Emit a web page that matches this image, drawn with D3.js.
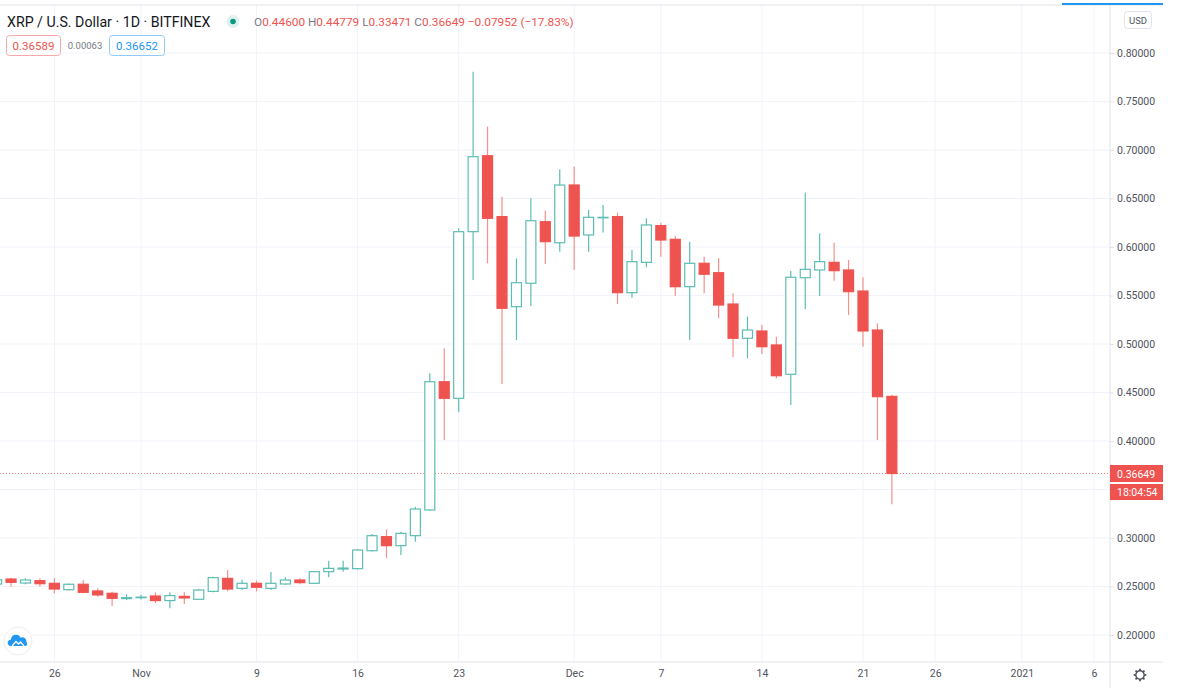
<!DOCTYPE html>
<html>
<head>
<meta charset="utf-8">
<script src="https://cdn.jsdelivr.net/npm/d3@7"></script>
<style>
  html, body { margin: 0; padding: 0; background: #fff; }
  svg { display: block; font-family: Roboto, "Noto Sans", sans-serif; }
</style>
</head>
<body>
<svg id="chart" width="1183" height="688"></svg>
<script>
// daily XRP/USD candles
const dates = [
  "2020-10-22","2020-10-23","2020-10-24","2020-10-25","2020-10-26","2020-10-27","2020-10-28","2020-10-29","2020-10-30","2020-10-31",
  "2020-11-01","2020-11-02","2020-11-03","2020-11-04","2020-11-05","2020-11-06","2020-11-07","2020-11-08","2020-11-09","2020-11-10",
  "2020-11-11","2020-11-12","2020-11-13","2020-11-14","2020-11-15","2020-11-16","2020-11-17","2020-11-18","2020-11-19","2020-11-20",
  "2020-11-21","2020-11-22","2020-11-23","2020-11-24","2020-11-25","2020-11-26","2020-11-27","2020-11-28","2020-11-29","2020-11-30",
  "2020-12-01","2020-12-02","2020-12-03","2020-12-04","2020-12-05","2020-12-06","2020-12-07","2020-12-08","2020-12-09","2020-12-10",
  "2020-12-11","2020-12-12","2020-12-13","2020-12-14","2020-12-15","2020-12-16","2020-12-17","2020-12-18","2020-12-19","2020-12-20",
  "2020-12-21","2020-12-22","2020-12-23"
]
const opens = [
  0.2525,0.2577,0.2536,0.2560,0.2533,0.2467,0.2523,0.2454,0.2430,0.2375,
  0.2385,0.2402,0.2355,0.2398,0.2368,0.2450,0.2584,0.2481,0.2533,0.2481,
  0.2526,0.2567,0.2533,0.2653,0.2680,0.2684,0.2869,0.3014,0.2921,0.3024,
  0.3289,0.4611,0.4440,0.6158,0.6941,0.6313,0.5385,0.5626,0.6261,0.6044,
  0.6639,0.6124,0.6301,0.6313,0.5529,0.5842,0.6220,0.6079,0.5591,0.5832,
  0.5735,0.5412,0.5059,0.5134,0.4990,0.4688,0.5684,0.5763,0.5842,0.5763,
  0.5546,0.5144,0.44600
]
const highs = [
  0.2585,0.2590,0.2584,0.2584,0.2584,0.2530,0.2567,0.2482,0.2446,0.2420,
  0.2415,0.2440,0.2438,0.2440,0.2475,0.2600,0.2670,0.2567,0.2560,0.2650,
  0.2595,0.2584,0.2660,0.2766,0.2766,0.2885,0.3040,0.3090,0.3065,0.3323,
  0.4698,0.4956,0.6193,0.7807,0.7240,0.6519,0.5883,0.6502,0.6374,0.6801,
  0.6828,0.6381,0.6433,0.6354,0.5969,0.6296,0.6251,0.6113,0.6055,0.5900,
  0.5883,0.5523,0.5282,0.5196,0.5076,0.5756,0.6560,0.6141,0.6044,0.5866,
  0.5688,0.5213,0.44779
]
const lows = [
  0.2510,0.2498,0.2522,0.2498,0.2430,0.2460,0.2430,0.2395,0.2299,0.2361,
  0.2365,0.2330,0.2276,0.2320,0.2360,0.2440,0.2450,0.2464,0.2450,0.2464,
  0.2516,0.2522,0.2526,0.2595,0.2653,0.2676,0.2860,0.2792,0.2825,0.2962,
  0.3280,0.4010,0.4296,0.5660,0.5832,0.4588,0.5041,0.5392,0.5825,0.5952,
  0.5763,0.5952,0.6150,0.5412,0.5477,0.5791,0.5900,0.5498,0.5041,0.5522,
  0.5265,0.4863,0.4853,0.4897,0.4646,0.4371,0.5358,0.5495,0.5653,0.5299,
  0.4972,0.4010,0.33471
]
const closes = [
  0.2570,0.2543,0.2567,0.2529,0.2474,0.2523,0.2440,0.2413,0.2378,0.2385,
  0.2390,0.2355,0.2406,0.2382,0.2464,0.2591,0.2474,0.2533,0.2492,0.2533,
  0.2567,0.2540,0.2653,0.2687,0.2690,0.2876,0.3024,0.2921,0.3048,0.3299,
  0.4611,0.4440,0.6158,0.6931,0.6296,0.5368,0.5632,0.6271,0.6055,0.6639,
  0.6113,0.6306,0.6306,0.5529,0.5849,0.6227,0.6072,0.5591,0.5832,0.5719,
  0.5402,0.5059,0.5144,0.4972,0.4673,0.5688,0.5770,0.5849,0.5756,0.5539,
  0.5134,0.4457,0.36649
]
const priceTicks = [0.20, 0.25, 0.30, 0.35, 0.40, 0.45, 0.50, 0.55, 0.60, 0.65, 0.70, 0.75, 0.80]
const labelTicks = [0.20, 0.25, 0.30, 0.40, 0.45, 0.50, 0.55, 0.60, 0.65, 0.70, 0.75, 0.80]
const timeTicks = ["2020-10-26","2020-11-01","2020-11-09","2020-11-16","2020-11-23","2020-12-01","2020-12-07","2020-12-14","2020-12-21","2020-12-26","2021-01-01","2021-01-06"]
const timeLabels = ["26","Nov","9","16","23","Dec","7","14","21","26","2021","6"]
const lastPrice = 0.36649
const countdown = "18:04:54"
const bid = "0.36589", spread = "0.00063", ask = "0.36652"
const change = " −0.07952 (−17.83%)"

const W = 1183, H = 688
const plotR = 1110, plotB = 662, plotT = 5, edge = 1163
const upColor = "#26a69a", upLine = "#5dbdb3", downColor = "#ef5350", downWick = "#f4908e"
const gridColor = "#f0f3fa", borderColor = "#e0e3eb", textColor = "#131722"

const parse = d3.utcParse("%Y-%m-%d")
const candles = dates.map((d, i) => ({date: parse(d), o: opens[i], h: highs[i], l: lows[i], c: closes[i]}))

const xScale = d3.scaleUtc()
    .domain([parse("2020-11-01"), parse("2020-12-21")])
    .range([141, 863])
const yScale = d3.scaleLinear().domain([0.2, 0.8]).range([635, 53])

const svg = d3.select("#chart")

const clip = svg.append("defs").append("clipPath").attr("id", "plot")
clip.append("rect").attr("x", 0).attr("y", plotT).attr("width", plotR).attr("height", plotB - plotT)

// grid
const grid = svg.append("g").attr("clip-path", "url(#plot)")
grid.selectAll(".hg").data(priceTicks).join("line")
    .attr("x1", 0).attr("x2", plotR)
    .attr("y1", d => yScale(d)).attr("y2", d => yScale(d))
    .attr("stroke", gridColor)
grid.selectAll(".vg").data(timeTicks).join("line")
    .attr("x1", d => xScale(parse(d))).attr("x2", d => xScale(parse(d)))
    .attr("y1", plotT).attr("y2", plotB)
    .attr("stroke", gridColor)

// last price dotted line
svg.append("line")
    .attr("x1", 0).attr("x2", plotR)
    .attr("y1", yScale(lastPrice)).attr("y2", yScale(lastPrice))
    .attr("stroke", downColor).attr("stroke-dasharray", "1,2").attr("opacity", 0.7)

// candles
const bodyW = 10
const cg = svg.append("g").attr("clip-path", "url(#plot)")
const c = cg.selectAll("g.candle").data(candles).join("g").attr("class", "candle")
c.append("line")
    .attr("x1", d => xScale(d.date)).attr("x2", d => xScale(d.date))
    .attr("y1", d => yScale(d.h)).attr("y2", d => yScale(d.l))
    .attr("stroke", d => d.c >= d.o ? upLine : downWick)
    .attr("stroke-width", 1.2)
c.append("rect")
    .attr("x", d => xScale(d.date) - bodyW / 2)
    .attr("width", bodyW)
    .attr("y", d => yScale(Math.max(d.o, d.c)))
    .attr("height", d => Math.max(0.5, Math.abs(yScale(d.o) - yScale(d.c))))
    .attr("fill", d => d.c >= d.o ? "#fff" : downColor)
    .attr("stroke", d => d.c >= d.o ? upLine : downColor)
    .attr("stroke-width", 1.2)

// borders
svg.append("line").attr("x1", 0).attr("x2", edge).attr("y1", plotT).attr("y2", plotT).attr("stroke", borderColor)
svg.append("line").attr("x1", 1062).attr("x2", edge).attr("y1", plotT - 1).attr("y2", plotT - 1).attr("stroke", "#2196f3").attr("stroke-width", 2)

// price axis
const yAxis = d3.axisRight(yScale).tickValues(labelTicks).tickFormat(d3.format(".5f")).tickSize(4).tickPadding(3)
const ya = svg.append("g").attr("transform", `translate(${plotR},0)`).call(yAxis)
ya.select(".domain").remove()
ya.selectAll(".tick line").attr("stroke", borderColor)
ya.selectAll(".tick text").attr("fill", "#50535e").style("font-size", "10.5px").style("font-family", "Roboto, sans-serif")
svg.append("line").attr("x1", plotR).attr("x2", plotR).attr("y1", plotT).attr("y2", H).attr("stroke", borderColor)

// time axis
const xAxis = d3.axisBottom(xScale)
    .tickValues(timeTicks.map(parse))
    .tickFormat((d, i) => timeLabels[i])
    .tickSize(0).tickPadding(8)
const xa = svg.append("g").attr("transform", `translate(0,${plotB})`).call(xAxis)
xa.select(".domain").remove()
xa.selectAll(".tick text").attr("fill", "#50535e").style("font-size", "10.5px").style("font-family", "Roboto, sans-serif")
svg.append("line").attr("x1", 0).attr("x2", edge).attr("y1", plotB).attr("y2", plotB).attr("stroke", borderColor)

// last price badge
const ly = yScale(lastPrice)
svg.append("rect").attr("x", plotR).attr("y", ly - 8.5).attr("width", edge - plotR).attr("height", 17).attr("fill", downColor)
svg.append("text").attr("x", plotR + 7).attr("y", ly + 4).text(d3.format(".5f")(lastPrice))
    .attr("fill", "#fff").style("font-size", "10.5px")
svg.append("rect").attr("x", plotR).attr("y", ly + 10.5).attr("width", edge - plotR).attr("height", 16).attr("fill", downColor)
svg.append("text").attr("x", plotR + 7).attr("y", ly + 22.5).text(countdown)
    .attr("fill", "#fff").style("font-size", "10.5px")

// USD tag
svg.append("rect").attr("x", 1124.5).attr("y", 11.5).attr("width", 27).attr("height", 17).attr("rx", 3)
    .attr("fill", "#fff").attr("stroke", borderColor)
svg.append("text").attr("x", 1138).attr("y", 24).attr("text-anchor", "middle").text("USD")
    .attr("fill", "#50535e").style("font-size", "9.5px")

// legend header
svg.append("text").attr("x", 7).attr("y", 27).text("XRP / U.S. Dollar · 1D · BITFINEX")
    .attr("fill", textColor).style("font-size", "14.2px")
svg.append("circle").attr("cx", 233).attr("cy", 21.5).attr("r", 6.5).attr("fill", "#26a69a").attr("opacity", 0.15)
svg.append("circle").attr("cx", 233).attr("cy", 21.5).attr("r", 2.8).attr("fill", "#089981")

const ohlc = svg.append("text").attr("x", 254).attr("y", 26).style("font-size", "11.8px")
const parts = [
  ["O", d3.format(".5f")(opens[opens.length - 1])],
  [" H", d3.format(".5f")(highs[highs.length - 1])],
  [" L", d3.format(".5f")(lows[lows.length - 1])],
  [" C", d3.format(".5f")(closes[closes.length - 1])]
]
parts.forEach(([k, v]) => {
  ohlc.append("tspan").text(k).attr("fill", "#787b86")
  ohlc.append("tspan").text(v).attr("fill", downColor)
})
ohlc.append("tspan").text(change).attr("fill", downColor)

// bid / spread / ask
svg.append("rect").attr("x", 6.5).attr("y", 35.5).attr("width", 54).attr("height", 20).attr("rx", 3)
    .attr("fill", "#fff").attr("stroke", "#f7a9a7")
svg.append("text").attr("x", 33.5).attr("y", 50).attr("text-anchor", "middle").text(bid)
    .attr("fill", downColor).style("font-size", "11.5px")
svg.append("text").attr("x", 85).attr("y", 49).attr("text-anchor", "middle").text(spread)
    .attr("fill", "#787b86").style("font-size", "9.5px")
svg.append("rect").attr("x", 109.5).attr("y", 35.5).attr("width", 55).attr("height", 20).attr("rx", 3)
    .attr("fill", "#fff").attr("stroke", "#90caf9")
svg.append("text").attr("x", 137).attr("y", 50).attr("text-anchor", "middle").text(ask)
    .attr("fill", "#2196f3").style("font-size", "11.5px")

// logo bubble bottom-left
svg.append("circle").attr("cx", 18).attr("cy", 641).attr("r", 14).attr("fill", "#fff").attr("stroke", "#eceef2")
svg.append("path")
    .attr("d", "M9.5,646 a3.5,3.5 0 0 1 1.5,-6.6 a5,5 0 0 1 9.6,-1.6 a4,4 0 0 1 5.8,4.2 a2.5,2.5 0 0 1 -0.6,4 Z")
    .attr("fill", "#2196f3")
svg.append("path").attr("d", "M12,646 l4,-4.5 l2.5,2.5 l2,-2 l3.5,4").attr("fill", "none").attr("stroke", "#fff").attr("stroke-width", 1.3)

// settings gear bottom-right
const gear = svg.append("g").attr("transform", "translate(1140,675)")
gear.append("circle").attr("r", 4.2).attr("fill", "none").attr("stroke", "#50535e").attr("stroke-width", 1.4)
gear.selectAll("line").data(d3.range(8)).join("line")
    .attr("x1", 0).attr("y1", -4.2).attr("x2", 0).attr("y2", -6.3)
    .attr("transform", d => `rotate(${d * 45})`)
    .attr("stroke", "#50535e").attr("stroke-width", 1.8)
</script>
</body>
</html>
